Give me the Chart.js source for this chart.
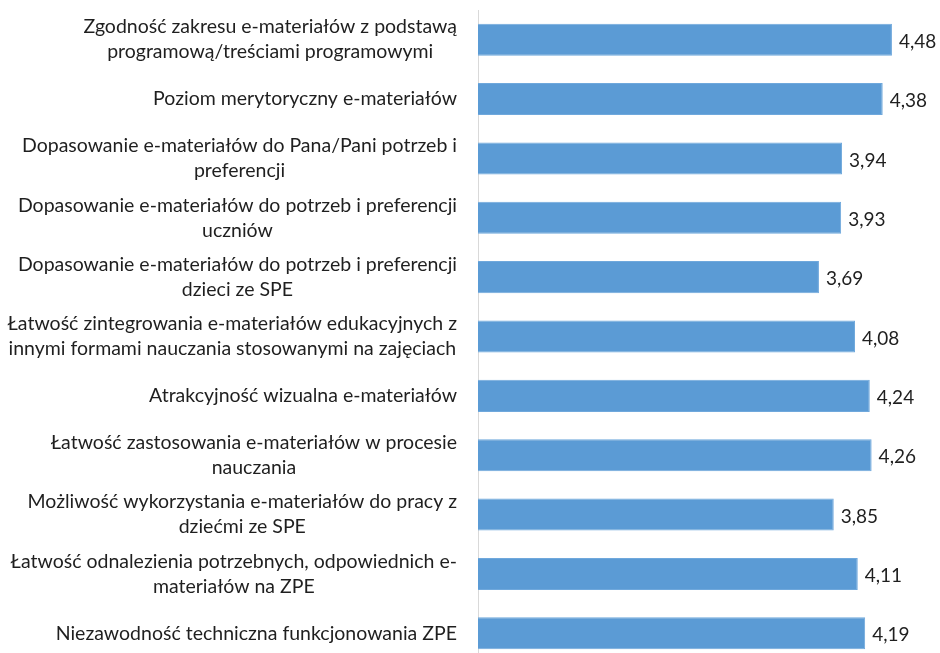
<!DOCTYPE html>
<html>
<head>
<meta charset="utf-8">
<script src="https://cdn.jsdelivr.net/npm/chart.js@4.4.0/dist/chart.umd.min.js"></script>
<style>
  html, body { margin: 0; padding: 0; background: #fff; overflow: hidden; }
  #wrap { width: 940px; height: 663px; }
</style>
</head>
<body>
<div id="wrap"><canvas id="chart"></canvas></div>
<script>
// categories (each entry = lines of the label)
const categories = [
  ["Zgodność zakresu e-materiałów z podstawą", "programową/treściami programowymi"],
  ["Poziom merytoryczny e-materiałów"],
  ["Dopasowanie e-materiałów do Pana/Pani potrzeb i", "preferencji"],
  ["Dopasowanie e-materiałów do potrzeb i preferencji", "uczniów"],
  ["Dopasowanie e-materiałów do potrzeb i preferencji", "dzieci ze SPE"],
  ["Łatwość zintegrowania e-materiałów edukacyjnych z", "innymi formami nauczania stosowanymi na zajęciach"],
  ["Atrakcyjność wizualna e-materiałów"],
  ["Łatwość zastosowania e-materiałów w procesie", "nauczania"],
  ["Możliwość wykorzystania e-materiałów do pracy z", "dziećmi ze SPE"],
  ["Łatwość odnalezienia potrzebnych, odpowiednich e-", "materiałów na ZPE"],
  ["Niezawodność techniczna funkcjonowania ZPE"]
];
const values = [4.48, 4.38, 3.94, 3.93, 3.69, 4.08, 4.24, 4.26, 3.85, 4.11, 4.19];

const FONT = "Lato, 'Open Sans', sans-serif";
const TEXT_COLOR = "#1f1f1f";

// draws category labels (lines centred, block right-aligned) and value labels
const labelPlugin = {
  id: "labels",
  afterDatasetsDraw(chart) {
    const ctx = chart.ctx;
    const yScale = chart.scales.y;
    const meta = chart.getDatasetMeta(0);
    ctx.save();
    ctx.font = "19.5px " + FONT;
    ctx.fillStyle = TEXT_COLOR;
    ctx.textBaseline = "middle";
    const right = chart.chartArea.left - 21;
    const lh = 25;
    categories.forEach((lines, i) => {
      const yc = yScale.getPixelForValue(i);
      const w = Math.max(...lines.map(l => ctx.measureText(l).width));
      ctx.textAlign = "center";
      const y0 = yc - (lines.length - 1) * lh / 2;
      lines.forEach((l, j) => ctx.fillText(l, right - w / 2, y0 + j * lh));
    });
    ctx.font = "19px " + FONT;
    ctx.textAlign = "left";
    meta.data.forEach((bar, i) => {
      ctx.fillText(values[i].toFixed(2).replace(".", ","), bar.x + 7, bar.y + 2);
    });
    ctx.restore();
  }
};

new Chart(document.getElementById("chart"), {
  type: "bar",
  data: {
    labels: categories.map(c => c.join(" ")),
    datasets: [{
      data: values,
      backgroundColor: "#5b9bd5",
      borderColor: "#6fa8dc",
      borderWidth: 1,
      barPercentage: 0.54,
      categoryPercentage: 1
    }]
  },
  options: {
    indexAxis: "y",
    responsive: true,
    maintainAspectRatio: false,
    animation: false,
    layout: { padding: { top: 10, bottom: 0, left: 0, right: 0 } },
    plugins: {
      legend: { display: false },
      tooltip: { enabled: false }
    },
    scales: {
      x: { display: false, min: 0, max: 5 },
      y: {
        ticks: { display: false },
        grid: { display: false },
        border: { display: true, color: "#d9d9d9", width: 1 },
        afterFit(scale) { scale.width = 478; }
      }
    }
  },
  plugins: [labelPlugin]
});
</script>
</body>
</html>
